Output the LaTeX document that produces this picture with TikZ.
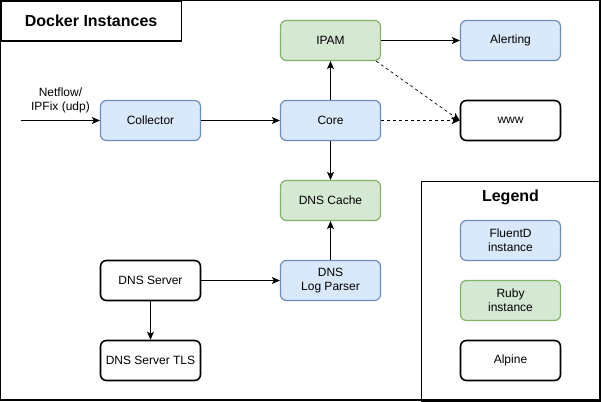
\documentclass[tikz,border=0pt]{standalone}
\usepackage{fontspec}
\setmainfont{Liberation Sans}
\usetikzlibrary{arrows.meta}
\definecolor{bluefill}{HTML}{DAE8FC}
\definecolor{bluedraw}{HTML}{6C8EBF}
\definecolor{greenfill}{HTML}{D5E8D4}
\definecolor{greendraw}{HTML}{82B366}
\begin{document}
\begin{tikzpicture}[x=1pt,y=-1pt,
  box/.style={rounded corners=6pt, minimum width=100pt, minimum height=40pt, inner sep=0pt, align=center, font=\fontsize{12pt}{14pt}\selectfont},
  fluent/.style={box, draw=bluedraw, fill=bluefill, line width=1.2pt},
  ruby/.style={box, draw=greendraw, fill=greenfill, line width=1.2pt},
  alpine/.style={box, draw=black, fill=white, line width=1.6pt},
  frame/.style={draw=black, line width=1.2pt},
  conn/.style={-{Stealth[length=8pt,width=7pt,inset=2pt]}, line width=0.9pt},
  dconn/.style={conn, dashed, dash pattern=on 3pt off 3pt, line width=0.7pt}
]
\useasboundingbox (-0.5,-0.5) rectangle (600.5,400.5);
\fill[white] (-0.5,-0.5) rectangle (600.5,400.5);
\draw[frame] (0,0) rectangle (599.5,399.5);
\node[frame, minimum width=180pt, minimum height=40pt, inner sep=0pt, anchor=north west, font=\bfseries\fontsize{16pt}{18pt}\selectfont] (title) at (0,0) {Docker Instances};
\node[frame, minimum width=180pt, minimum height=220pt, inner sep=0pt, anchor=north west] (legendbox) at (420.5,180.5) {};
\node[font=\bfseries\fontsize{16pt}{18pt}\selectfont] (legendtitle) at (510,197) {Legend};
\node[fluent] (lfluent) at (510,240) {FluentD\\instance};
\node[ruby] (lruby) at (510,300) {Ruby\\instance};
\node[alpine] (lalpine) at (510,360) {Alpine};

\node[fluent] (collector) at (150,120) {Collector};
\node[fluent] (core) at (330,120) {Core};
\node[ruby] (ipam) at (330,40) {IPAM};
\node[fluent] (alerting) at (510,40) {Alerting};
\node[alpine] (www) at (510,120) {www};
\node[ruby] (dnscache) at (330,200) {DNS Cache};
\node[fluent] (parser) at (330,280) {DNS\\Log Parser};
\node[alpine] (dnsserver) at (150,280) {DNS Server};
\node[alpine] (dnstls) at (150,360) {DNS Server TLS};

\coordinate (in) at (20,120);
\node[align=center, font=\fontsize{12pt}{14pt}\selectfont, anchor=south] (inlabel) at (60,116) {Netflow/\\IPFix (udp)};

\draw[conn] (in) -- (collector);
\draw[conn] (collector) -- (core);
\draw[conn] (core) -- (ipam);
\draw[conn] (ipam) -- (alerting);
\draw[conn] (core) -- (dnscache);
\draw[conn] (parser) -- (dnscache);
\draw[conn] (dnsserver) -- (parser);
\draw[conn] (dnsserver) -- (dnstls);
\draw[dconn] (core) -- (www);
\draw[dconn] (ipam.south east) ++(-5,0) coordinate (ipamse) (ipamse) -- (www.west);
\end{tikzpicture}
\end{document}
